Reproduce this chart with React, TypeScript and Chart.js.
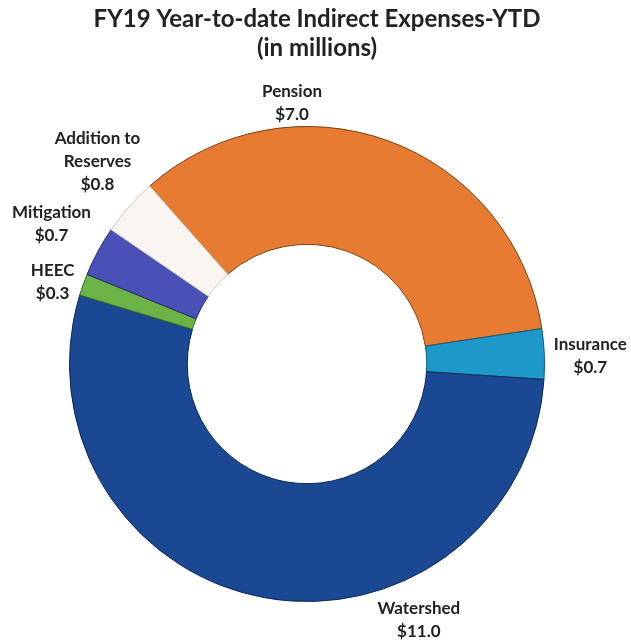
import React, { useEffect, useRef } from "react";
import { Chart, registerables } from "chart.js";

Chart.register(...registerables);

const titleLines = ["FY19 Year-to-date Indirect Expenses-YTD", "(in millions)"];
const categories = ["Pension", "Insurance", "Watershed", "HEEC", "Mitigation", "Addition to Reserves"];
const values = [7.0, 0.7, 11.0, 0.3, 0.7, 0.8];
const labelLines = [["Pension"], ["Insurance"], ["Watershed"], ["HEEC"], ["Mitigation"], ["Addition to", "Reserves"]];
const colors = ["#E87B32", "#1D98C8", "#1B4892", "#6BB345", "#4A51B6", "#F8F5F0"];
const borderColors = ["#7a3f14", "#0f5d80", "#0d2754", "#3d6e24", "#262a6e", "#cfcac4"];
// label anchor offsets in units of the outer radius, relative to the doughnut centre
const labelOffsets = [
  [-0.063, -1.097],
  [1.193, -0.034],
  [0.471, 1.08],
  [-1.071, -0.345],
  [-1.076, -0.588],
  [-0.882, -0.853],
];

const FONT = "Lato, 'Open Sans', sans-serif";

const labelPlugin = {
  id: "customLabels",
  afterDraw(chart: any) {
    const ctx = chart.ctx;
    const meta = chart.getDatasetMeta(0);
    const arc0 = meta.data[0];
    const cx = arc0.x;
    const cy = arc0.y;
    const r = arc0.outerRadius;
    ctx.save();
    ctx.fillStyle = "#222";
    ctx.textAlign = "center";
    ctx.textBaseline = "middle";
    // title
    ctx.font = `bold 24px ${FONT}`;
    titleLines.forEach((t, i) => ctx.fillText(t, 317, 19 + i * 29));
    // slice labels
    ctx.font = `bold 17px ${FONT}`;
    categories.forEach((c, i) => {
      const lines = [...labelLines[i], "$" + values[i].toFixed(1)];
      const lx = cx + labelOffsets[i][0] * r;
      const ly = cy + labelOffsets[i][1] * r;
      const lh = 23;
      const startY = ly - ((lines.length - 1) * lh) / 2;
      lines.forEach((ln, j) => ctx.fillText(ln, lx, startY + j * lh));
    });
    ctx.restore();
  },
};

export default function App() {
  const ref = useRef<HTMLCanvasElement>(null);
  useEffect(() => {
    if (!ref.current) return;
    const chart = new Chart(ref.current, {
      type: "doughnut",
      data: {
        labels: categories,
        datasets: [
          {
            data: values,
            backgroundColor: colors,
            borderColor: borderColors,
            borderWidth: 1,
          },
        ],
      },
      options: {
        animation: false,
        responsive: false,
        maintainAspectRatio: false,
        rotation: 318.5,
        cutout: "50.4%",
        layout: { padding: { left: 69, right: 86, top: 126, bottom: 41 } },
        plugins: {
          legend: { display: false },
          tooltip: { enabled: false },
          title: { display: false },
        },
      },
      plugins: [labelPlugin],
    });
    return () => chart.destroy();
  }, []);
  return (
    <div style={{ position: "fixed", left: 0, top: 0, width: 631, height: 643, background: "#fff" }}>
      <canvas ref={ref} width={631} height={643} style={{ width: 631, height: 643 }} />
    </div>
  );
}
